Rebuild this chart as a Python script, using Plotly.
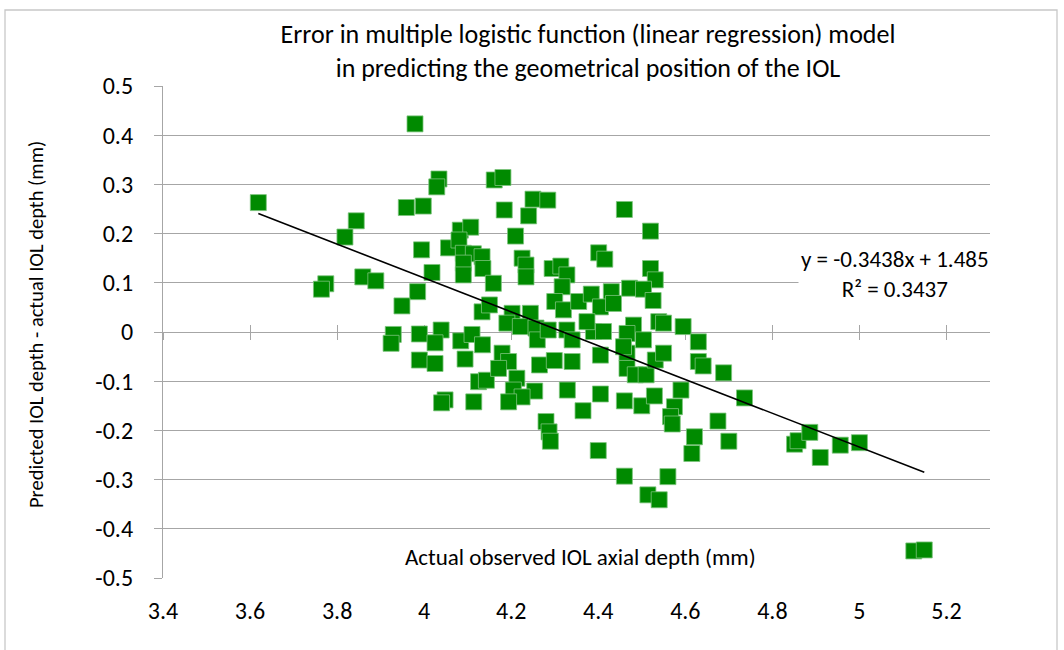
import plotly.graph_objects as go

# ---- data ----
obs_depth = [3.619, 3.979, 4.034, 4.029, 3.959, 3.998, 3.844, 3.818, 3.994, 4.056,
             4.083, 4.107, 4.080, 4.090, 4.113, 4.133, 4.090, 4.090, 4.135, 4.018,
             3.859, 3.889, 3.774, 3.764, 3.985, 3.949, 3.929, 3.924, 3.989, 4.039,
             4.025, 4.084, 4.110, 4.134, 3.989, 4.025, 4.094, 4.125, 4.143, 4.048,
             4.040, 4.114, 4.133, 4.150, 4.161, 4.181, 4.250, 4.284, 4.184, 4.240,
             4.460, 4.210, 4.520, 4.225, 4.234, 4.234, 4.401, 4.415, 4.159, 4.294,
             4.314, 4.328, 4.317, 4.520, 4.531, 4.430, 4.472, 4.504, 4.526, 4.300,
             4.320, 4.355, 4.384, 4.405, 4.435, 4.202, 4.244, 4.190, 4.221, 4.539,
             4.550, 4.595, 4.481, 4.466, 4.630, 4.179, 4.194, 4.171, 4.213, 4.205,
             4.254, 4.225, 4.194, 4.265, 4.299, 4.340, 4.328, 4.340, 4.405, 4.389,
             4.412, 4.329, 4.365, 4.405, 4.280, 4.287, 4.290, 4.460, 4.500, 4.529,
             4.590, 4.575, 4.566, 4.570, 4.466, 4.466, 4.485, 4.510, 4.531, 4.550,
             4.504, 4.458, 4.630, 4.641, 4.688, 4.736, 4.675, 4.700, 4.621, 4.615,
             4.400, 4.460, 4.560, 4.514, 4.540, 4.851, 4.859, 4.886, 4.910, 4.956,
             5.000, 5.125, 5.149, 4.374, 4.257, 4.260, 4.285]
pred_error = [0.263, 0.423, 0.311, 0.295, 0.253, 0.256, 0.226, 0.193, 0.167, 0.171,
              0.207, 0.213, 0.187, 0.160, 0.159, 0.153, 0.140, 0.116, 0.129, 0.121,
              0.112, 0.104, 0.098, 0.087, 0.082, 0.053, -0.005, -0.023, -0.004, 0.004,
              -0.022, -0.018, -0.005, -0.026, -0.057, -0.064, -0.055, -0.101, -0.098, -0.138,
              -0.144, -0.142, 0.041, 0.055, 0.309, 0.314, 0.270, 0.268, 0.248, 0.236,
              0.249, 0.195, 0.205, 0.150, 0.136, 0.112, 0.161, 0.148, 0.099, 0.129,
              0.134, 0.116, 0.092, 0.129, 0.106, 0.082, 0.089, 0.087, 0.064, 0.062,
              0.045, 0.062, 0.077, 0.051, 0.058, 0.038, 0.038, 0.018, 0.011, 0.021,
              0.018, 0.011, 0.014, -0.003, -0.020, -0.043, -0.060, -0.074, -0.094, -0.118,
              -0.120, -0.132, -0.142, -0.067, -0.058, -0.060, 0.004, -0.016, -0.047, 0.001,
              0.001, -0.118, -0.160, -0.126, -0.182, -0.203, -0.222, -0.140, -0.150, -0.130,
              -0.118, -0.152, -0.172, -0.187, -0.043, -0.074, -0.087, -0.087, -0.057, -0.043,
              -0.016, -0.030, -0.060, -0.069, -0.083, -0.134, -0.181, -0.222, -0.213, -0.247,
              -0.241, -0.293, -0.294, -0.331, -0.341, -0.228, -0.221, -0.204, -0.255, -0.230,
              -0.225, -0.445, -0.443, 0.021, 0.008, -0.016, 0.004]

trend_slope = -0.3438
trend_intercept = 1.485
trend_label = "y = -0.3438x + 1.485<br>R² = 0.3437"

x_ticks = [3.4, 3.6, 3.8, 4.0, 4.2, 4.4, 4.6, 4.8, 5.0, 5.2]
x_tick_text = ["3.4", "3.6", "3.8", "4", "4.2", "4.4", "4.6", "4.8", "5", "5.2"]
y_ticks = [-0.5, -0.4, -0.3, -0.2, -0.1, 0.0, 0.1, 0.2, 0.3, 0.4, 0.5]
y_tick_text = ["-0.5", "-0.4", "-0.3", "-0.2", "-0.1", "0", "0.1", "0.2", "0.3", "0.4", "0.5"]

title_text = ("Error in multiple logistic function (linear regression) model<br>"
              "in predicting the geometrical position of the IOL")
x_title = "Actual observed IOL axial depth (mm)"
y_title = "Predicted IOL depth - actual IOL depth (mm)"

FONT = "Carlito, Lato, sans-serif"
GRID = "#a6a6a6"
GREEN = "#008a00"

trend_x = [min(obs_depth), max(obs_depth)]
trend_y = [trend_slope * v + trend_intercept for v in trend_x]

fig = go.Figure()
fig.add_trace(go.Scatter(
    x=obs_depth, y=pred_error, mode="markers",
    marker=dict(symbol="square", size=16, color=GREEN,
                line=dict(color="#7cc47c", width=0.8)),
    showlegend=False, hoverinfo="x+y"))
fig.add_trace(go.Scatter(
    x=trend_x, y=trend_y, mode="lines",
    line=dict(color="black", width=1.6), showlegend=False, hoverinfo="skip"))
# helper empty traces so the crossing axis at y=0 is drawn
fig.add_trace(go.Scatter(x=[], y=[], xaxis="x2", showlegend=False, hoverinfo="skip"))
fig.add_trace(go.Scatter(x=[], y=[], xaxis="x3", showlegend=False, hoverinfo="skip"))

xr = [3.4, 5.3]
fig.update_layout(
    width=1064, height=650,
    margin=dict(l=163, r=74, t=86, b=72),
    paper_bgcolor="white", plot_bgcolor="white",
    font=dict(family=FONT, color="black"),
    title=dict(text=title_text, x=588 / 1064, xanchor="center",
               y=1 - 43 / 650, yanchor="middle", yref="container",
               font=dict(size=26, family=FONT)),
    xaxis=dict(range=xr, tickvals=x_ticks, ticktext=x_tick_text,
               showgrid=False, showline=False, zeroline=False, ticks="",
               tickfont=dict(size=24, family=FONT), ticklabelstandoff=16),
    xaxis2=dict(range=xr, tickvals=x_ticks, overlaying="x", anchor="free",
                position=0.5, showticklabels=False, showgrid=False, zeroline=False,
                showline=True, linecolor=GRID, linewidth=1.3,
                ticks="outside", ticklen=7, tickcolor=GRID, tickwidth=1.3,
                layer="below traces"),
    xaxis3=dict(range=xr, tickvals=x_ticks, overlaying="x", anchor="free",
                position=0.5, showticklabels=False, showgrid=False, zeroline=False,
                showline=False, ticks="inside", ticklen=7, tickcolor=GRID,
                tickwidth=1.3, layer="below traces"),
    yaxis=dict(range=[-0.5, 0.5], tickvals=y_ticks, ticktext=y_tick_text,
               showgrid=True, gridcolor=GRID, gridwidth=1.3, zeroline=False,
               showline=True, linecolor=GRID, linewidth=1.3,
               ticks="outside", ticklen=8, tickcolor=GRID, tickwidth=1.3,
               tickfont=dict(size=24, family=FONT), ticklabelstandoff=16),
)

fig.add_annotation(text=trend_label, xref="paper", yref="paper",
                   x=(895 - 163) / 827, y=(578 - 274) / 492,
                   xanchor="center", yanchor="middle", showarrow=False,
                   align="center", bgcolor="white", borderpad=2,
                   font=dict(size=23, family=FONT))
fig.add_annotation(text=x_title, xref="paper", yref="paper",
                   x=(580 - 163) / 827, y=(578 - 557) / 492,
                   xanchor="center", yanchor="middle", showarrow=False,
                   font=dict(size=23, family=FONT))
fig.add_annotation(text=y_title, xref="paper", yref="paper",
                   x=(36 - 163) / 827, y=(578 - 325) / 492, textangle=-90,
                   xanchor="center", yanchor="middle", showarrow=False,
                   font=dict(size=20.5, family=FONT))

# outer chart-area border
fig.add_shape(type="rect", xref="paper", yref="paper",
              x0=(5 - 163) / 827, x1=(1057 - 163) / 827,
              y0=(578 - 660) / 492, y1=(578 - 10) / 492,
              line=dict(color="#c8c8c8", width=1.3), layer="below")

fig.write_html("out.html")
